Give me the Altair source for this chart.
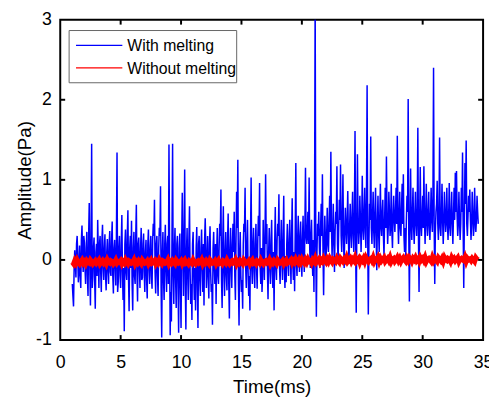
import altair as alt
import pandas as pd
import numpy as np

# ---------------- data ----------------
# blue samples at t = 1.0, 1.1, ... (main) and t = 1.05, 1.15, ... (in-between)
blue_t0, blue_dt = 1.0, 0.1
blue_vals = [
    -0.30, -0.58, 0.12, -0.22, 0.30, -0.28, 0.18, -0.35, 0.43, -0.15,   # 1
    0.22, -0.30, 0.35, -0.45, 0.71, -0.57, 1.45, -0.20, 0.28, -0.61,    # 2
    0.20, 0.50, -0.35, 0.30, -0.40, 0.44, -0.25, 0.32, -0.38, 0.26,     # 3
    -0.30, 0.36, -0.20, 0.48, -0.42, 0.25, -0.32, 1.34, -0.28, 0.30,    # 4
    -0.35, 0.56, -0.50, -0.89, 0.38, -0.25, 0.62, -0.64, 0.30, 0.49,    # 5
    -0.63, 0.35, -0.30, 0.69, -0.52, 0.28, -0.35, 0.40, -0.22, 0.33,    # 6
    -0.40, 0.25, -0.48, 0.38, -0.30, 0.30, -0.36, 0.45, 0.75, -0.42,    # 7
    0.30, -0.45, 0.40, 0.92, -0.97, 0.35, -0.50, 0.44, -0.40, 0.30,     # 8
    1.44, -0.94, -0.77, 1.45, -0.55, 0.40, -0.60, 0.30, -0.91, 0.33,    # 9
    -0.85, 0.84, -0.45, 1.13, -0.87, 0.40, -0.50, 0.67, -0.55, -0.75,   # 10
    0.35, -0.50, -0.63, 0.41, -0.85, 0.30, -0.45, 0.38, -0.40, -0.57,   # 11
    0.52, -0.35, 0.30, -0.48, 0.42, -0.40, -0.81, 0.35, -0.30, -0.55,   # 12
    0.40, -0.30, 0.45, 0.88, -0.60, 0.67, -0.45, 0.35, -0.38, 0.58,     # 13
    -0.73, 0.40, -0.35, 0.45, 0.60, -0.50, 0.85, 1.25, -0.82, 0.35,     # 14
    -0.40, -0.61, 0.45, 0.90, -0.35, 0.50, -0.45, -0.63, 1.03, -0.30,   # 15
    0.40, -0.35, 0.45, -0.36, 0.55, 0.96, -0.30, -0.40, 0.50, -0.25,    # 16
    1.07, 0.45, -0.49, 0.40, -0.30, 0.50, -0.35, -0.63, 0.66, -0.25,    # 17
    0.45, 0.82, -0.30, 0.50, -0.25, 0.80, -0.35, -0.28, 0.45, -0.20,    # 18
    0.50, -0.30, 0.77, -0.25, -0.39, 1.21, -0.20, 0.55, -0.15, 0.48,    # 19
    -0.21, 0.55, -0.15, 1.15, 0.20, 0.60, 1.03, -0.10, 0.50, -0.20,     # 20
    -0.40, 3.30, -0.71, 0.45, 0.60, -0.10, 0.70, 1.07, -0.44, 0.55,     # 21
    -0.05, 0.65, 0.10, 0.80, 1.35, 0.05, 0.70, -0.15, 0.60, 1.17,       # 22
    0.00, 0.75, 1.19, 0.10, 1.07, -0.10, 0.65, 0.20, 0.86, -0.05,       # 23
    0.70, 0.15, 0.85, 0.10, 1.61, -0.66, 1.32, 0.20, 0.80, 0.10,        # 24
    1.05, 0.25, 0.90, 0.15, 2.18, -0.68, 0.70, 1.54, 0.20, 0.85,        # 25
    0.15, 0.90, -0.13, 0.80, 0.10, 0.95, 0.30, 0.75, 0.05, 0.90,        # 26
    1.29, 0.20, 0.85, 0.30, 0.95, 0.15, 0.80, 0.35, 0.90, 1.55,         # 27
    0.20, 0.85, 0.30, 0.95, 1.07, 0.10, 0.05, 0.80, 2.01, -0.52,        # 28
    1.14, 0.25, 0.90, 0.20, 0.85, 0.30, 1.65, -0.40, 1.16, 0.30,        # 29
    0.80, 1.17, 0.20, 0.95, 0.30, 0.85, 0.25, 0.90, 0.35, 2.40,         # 30
    -0.30, 0.60, 0.99, 0.25, 1.53, 0.30, 0.95, 0.20, 0.85, 0.35,        # 31
    0.90, 0.25, 0.96, 0.30, 0.85, 0.20, 0.90, 1.09, 1.11, 0.30,         # 32
    0.85, 0.25, 0.90, 1.34, -0.35, 1.21, 1.49, 0.30, 0.80, 0.88,        # 33
    0.25, 0.85, 0.30, 0.90, 0.35, 0.80, 0.45,                           # 34
]
blue_mid_t0 = 1.05
blue_mid_vals = [
    -0.45, -0.10, -0.05, 0.20, 0.05, -0.10, -0.20, 0.25, 0.10, 0.30,    # 1
    -0.10, 0.15, -0.20, 0.30, -0.10, 0.20, -0.35, 0.15, -0.25, 0.10,    # 2
    -0.20, 0.10, 0.20, -0.15, 0.25, -0.10, 0.15, -0.20, 0.10, -0.15,    # 3
    0.20, -0.15, 0.25, -0.20, 0.15, -0.10, 0.30, -0.40, 0.15, -0.20,    # 4
    0.20, -0.15, -0.10, 0.20, -0.15, 0.30, -0.20, 0.15, -0.10, -0.30,   # 5
    0.15, -0.20, 0.30, -0.15, 0.20, -0.10, 0.15, -0.25, 0.20, -0.15,    # 6
    0.10, -0.25, 0.20, -0.10, 0.15, -0.20, 0.25, 0.30, -0.15, 0.20,     # 7
    -0.20, 0.15, 0.30, -0.35, 0.10, -0.25, 0.20, -0.15, 0.20, -0.30,    # 8
    0.20, -0.40, 0.30, -0.20, 0.15, -0.25, 0.20, -0.30, 0.15, -0.35,    # 9
    0.20, 0.10, 0.30, -0.30, 0.10, -0.20, 0.25, -0.15, -0.30, 0.20,     # 10
    -0.20, -0.10, 0.15, -0.35, 0.20, -0.25, 0.15, -0.10, 0.20, 0.25,    # 11
    0.15, -0.10, -0.20, 0.20, -0.15, -0.30, 0.15, -0.10, 0.20, 0.10,    # 12
    -0.20, 0.15, 0.30, -0.25, 0.20, -0.15, 0.10, -0.20, 0.25, -0.30,    # 13
    0.15, -0.10, 0.20, 0.10, -0.20, 0.25, 0.40, -0.30, 0.10, -0.20,     # 14
    -0.25, 0.20, 0.35, -0.10, 0.20, -0.15, -0.20, 0.30, -0.10, 0.20,    # 15
    -0.15, 0.20, -0.10, 0.25, 0.30, -0.10, 0.15, -0.20, 0.10, 0.30,     # 16
    0.20, -0.15, 0.10, -0.10, 0.25, -0.15, 0.10, 0.20, -0.10, 0.25,     # 17
    0.30, -0.10, 0.20, -0.05, 0.30, -0.10, 0.05, 0.20, -0.05, 0.25,     # 18
    0.05, 0.30, -0.05, 0.10, 0.35, -0.05, 0.25, 0.10, 0.30, 0.05,       # 19
    0.25, 0.10, 0.40, 0.30, 0.35, 0.20, 0.15, 0.30, 0.05, 0.25,         # 20
    0.60, 0.20, 0.10, 0.30, 0.15, 0.40, 0.30, 0.10, 0.20, 0.25,         # 21
    0.30, 0.20, 0.45, 0.35, 0.40, 0.30, 0.20, 0.35, 0.45, 0.20,         # 22
    0.40, 0.50, 0.30, 0.55, 0.25, 0.35, 0.40, 0.50, 0.30, 0.40,         # 23
    0.35, 0.55, 0.30, 0.60, 0.20, 0.40, 0.45, 0.35, 0.50, 0.45,         # 24
    0.40, 0.60, 0.35, 0.80, 0.30, 0.20, 0.50, 0.40, 0.55, 0.35,         # 25
    0.60, 0.30, 0.45, 0.35, 0.55, 0.40, 0.60, 0.30, 0.50, 0.40,         # 26
    0.55, 0.40, 0.60, 0.45, 0.35, 0.55, 0.50, 0.60, 0.45, 0.50,         # 27
    0.55, 0.40, 0.65, 0.45, 0.30, 0.40, 0.50, 0.60, 0.30, 0.40,         # 28
    0.45, 0.60, 0.40, 0.55, 0.45, 0.60, 0.30, 0.50, 0.45, 0.55,         # 29
    0.40, 0.50, 0.55, 0.45, 0.60, 0.40, 0.55, 0.50, 0.80, 0.45,         # 30
    0.35, 0.70, 0.45, 0.60, 0.40, 0.55, 0.50, 0.45, 0.60, 0.50,         # 31
    0.45, 0.55, 0.40, 0.60, 0.45, 0.55, 0.50, 0.60, 0.55, 0.45,         # 32
    0.50, 0.45, 0.60, 0.40, 0.50, 0.70, 0.45, 0.55, 0.60, 0.50,         # 33
    0.45, 0.60, 0.40, 0.55, 0.50, 0.60,                                 # 34
]

red_t0, red_dt = 1.0, 0.1
red_vals = [
    -0.03, -0.05, -0.01, -0.04, 0.00, -0.03, -0.05, -0.02, 0.00, -0.04,
    -0.02, -0.05, -0.01, -0.03, -0.04, 0.00, -0.02, -0.05, -0.03, -0.01,
    -0.04, -0.02, 0.00, -0.05, -0.03, -0.01, -0.04, -0.02, -0.05, 0.00,
    -0.03, -0.04, -0.01, -0.02, -0.05, -0.03, 0.00, -0.04, -0.02, -0.03,
    -0.01, -0.05, -0.02, -0.04, 0.00, -0.03, -0.05, -0.01, -0.02, -0.04,
    -0.03, 0.00, -0.05, -0.02, -0.04, -0.01, -0.03, -0.05, 0.00, -0.02,
    -0.04, -0.03, -0.01, -0.05, -0.02, 0.00, -0.04, -0.03, -0.01, -0.05,
    -0.02, -0.04, 0.00, -0.03, -0.05, -0.01, -0.02, -0.04, -0.03, 0.00,
    -0.05, -0.02, -0.04, -0.01, -0.03, -0.05, 0.00, -0.02, -0.04, -0.03,
    -0.01, -0.05, -0.02, 0.00, -0.04, -0.03, -0.05, -0.01, -0.02, -0.04,
    0.00, -0.03, -0.05, -0.02, -0.01, -0.04, -0.03, 0.00, -0.05, -0.02,
    -0.04, -0.01, -0.03, -0.05, 0.00, -0.02, -0.04, -0.03, -0.01, -0.05,
    -0.02, 0.00, -0.04, -0.03, -0.05, -0.01, -0.02, -0.04, 0.00, -0.03,
    -0.05, -0.02, -0.01, -0.04, -0.03, 0.00, -0.05, -0.02, -0.04, -0.01,
    -0.03, -0.05, 0.00, -0.02, -0.04, -0.03, -0.01, -0.05, -0.02, 0.00,
    -0.04, -0.03, -0.05, -0.01, -0.02, -0.04, 0.00, -0.03, -0.05, -0.02,
    -0.01, -0.04, -0.03, 0.00, -0.05, -0.02, -0.04, -0.01, -0.03, -0.05,
    0.00, -0.02, -0.04, -0.03, -0.01, -0.05, -0.02, 0.00, -0.04, -0.03,
    -0.02, 0.00, -0.04, -0.01, -0.03, 0.01, -0.02, -0.04, 0.00, -0.03,
    0.01, -0.02, -0.04, 0.00, -0.03, 0.01, -0.02, -0.01, -0.04, 0.00,
    -0.02, 0.02, -0.03, -0.01, 0.01, -0.03, 0.00, -0.02, 0.02, -0.01,
    -0.03, 0.01, -0.02, 0.02, -0.01, -0.03, 0.01, 0.00, -0.02, 0.02,
    -0.01, -0.03, 0.02, 0.00, -0.02, 0.01, -0.01, 0.03, -0.02, 0.00,
    0.02, -0.02, 0.01, -0.01, 0.03, -0.02, 0.00, 0.02, -0.03, 0.01,
    -0.01, 0.02, -0.02, 0.03, 0.00, -0.02, 0.01, 0.02, -0.01, 0.03,
    -0.02, 0.01, 0.00, 0.03, -0.02, 0.02, -0.01, 0.01, 0.03, -0.02,
    0.00, 0.02, -0.01, 0.03, -0.02, 0.01, 0.02, -0.02, 0.00, 0.03,
    -0.01, 0.02, -0.02, 0.01, 0.03, 0.00, -0.02, 0.02, -0.01, 0.03,
    0.01, -0.02, 0.02, 0.00, 0.03, -0.01, 0.01, -0.02, 0.03, 0.00,
    0.02, -0.01, 0.03, -0.02, 0.01, 0.02, 0.00, -0.02, 0.03, -0.01,
    0.02, 0.00, -0.02, 0.03, 0.01, -0.01, 0.02, -0.02, 0.03, 0.00,
    -0.01, 0.02, 0.01, -0.02, 0.03, 0.00, 0.02, -0.01, 0.01, 0.03,
    -0.02, 0.01, 0.02, 0.00, -0.01, 0.03, -0.02, 0.02, 0.00, 0.01,
    -0.01, 0.02, 0.00, -0.02, 0.03, 0.01, 0.00,
]

x_tick_labels = [0, 5, 10, 15, 20, 25, 30, 35]
y_tick_labels = [-1, 0, 1, 2, 3]
x_inner_ticks = [5, 10, 15, 20, 25, 30]
y_inner_ticks = [0, 1, 2]
legend_labels = ["With melting", "Without melting"]
series_colors = ["#0000ff", "#ff0000"]

# ---------------- layout ----------------
W, H = 429, 325
FONT = "Liberation Sans"

blue_df = pd.concat([
    pd.DataFrame({"t": np.round(blue_t0 + blue_dt * np.arange(len(blue_vals)), 3), "v": blue_vals}),
    pd.DataFrame({"t": np.round(blue_mid_t0 + blue_dt * np.arange(len(blue_mid_vals)), 3), "v": blue_mid_vals}),
]).sort_values("t").reset_index(drop=True)
red_df = pd.DataFrame({
    "t": np.round(red_t0 + red_dt * np.arange(len(red_vals)), 3),
    "v": red_vals,
})

xscale = alt.Scale(domain=[0, 35], nice=False, zero=False)
yscale = alt.Scale(domain=[-1, 3], nice=False, zero=False)

x_axis = alt.Axis(values=x_tick_labels, title="Time(ms)", grid=False, domain=False,
                  ticks=False, labelFlush=False, labelOverlap=False, labelPadding=14,
                  titlePadding=6, labelFontSize=18, titleFontSize=19,
                  titleFontWeight="normal", labelColor="black", titleColor="black")
y_axis = alt.Axis(values=y_tick_labels, title="Amplitude(Pa)", grid=False, domain=False,
                  ticks=False, labelFlush=False, labelOverlap=False, labelPadding=9,
                  titlePadding=1, labelFontSize=18, titleFontSize=19,
                  labelExpr="replace(datum.label, '\u2212', '-')",
                  titleFontWeight="normal", labelColor="black", titleColor="black")

X = alt.X("t:Q", scale=xscale, axis=x_axis)
Y = alt.Y("v:Q", scale=yscale, axis=y_axis)

blue = alt.Chart(blue_df).mark_line(color=series_colors[0], strokeWidth=1.5, clip=True).encode(
    x=X, y=Y, order="t:Q")
red = alt.Chart(red_df).mark_line(color=series_colors[1], strokeWidth=5, clip=True).encode(x=X, y=Y)

xt_df = pd.DataFrame({"t": x_inner_ticks})
yt_df = pd.DataFrame({"v": y_inner_ticks})
TL = 5
tick_bottom = alt.Chart(xt_df).mark_rule(color="black", strokeWidth=2).encode(
    x=X, y=alt.value(H), y2=alt.value(H - TL))
tick_top = alt.Chart(xt_df).mark_rule(color="black", strokeWidth=2).encode(
    x=X, y=alt.value(0), y2=alt.value(TL))
tick_left = alt.Chart(yt_df).mark_rule(color="black", strokeWidth=2).encode(
    y=Y, x=alt.value(0), x2=alt.value(TL))
tick_right = alt.Chart(yt_df).mark_rule(color="black", strokeWidth=2).encode(
    y=Y, x=alt.value(W), x2=alt.value(W - TL))

# legend box
box = alt.Chart(pd.DataFrame({"a": [0]})).mark_rect(fill="white", stroke="#666666", strokeWidth=1).encode(
    x=alt.value(9), x2=alt.value(179), y=alt.value(11), y2=alt.value(64))
legend_layers = [box]
row_y = [26, 49]
for lab, col, yy in zip(legend_labels, series_colors, row_y):
    d = pd.DataFrame({"label": [lab]})
    legend_layers.append(
        alt.Chart(d).mark_rule(color=col, strokeWidth=1.3).encode(
            x=alt.value(16), x2=alt.value(63), y=alt.value(yy)))
    legend_layers.append(
        alt.Chart(d).mark_text(align="left", baseline="middle", fontSize=16, font=FONT,
                               color="black").encode(
            x=alt.value(68), y=alt.value(yy + 1), text="label:N"))

chart = alt.layer(
    blue, red, tick_bottom, tick_top, tick_left, tick_right, *legend_layers
).properties(
    width=W, height=H,
    autosize=alt.AutoSizeParams(type="none"),
    padding={"left": 53, "top": 9, "right": 6, "bottom": 57},
).configure(
    font=FONT,
).configure_view(
    stroke="black", strokeWidth=2,
)

chart.save("out.html", embed_options={"renderer": "svg", "actions": False})
